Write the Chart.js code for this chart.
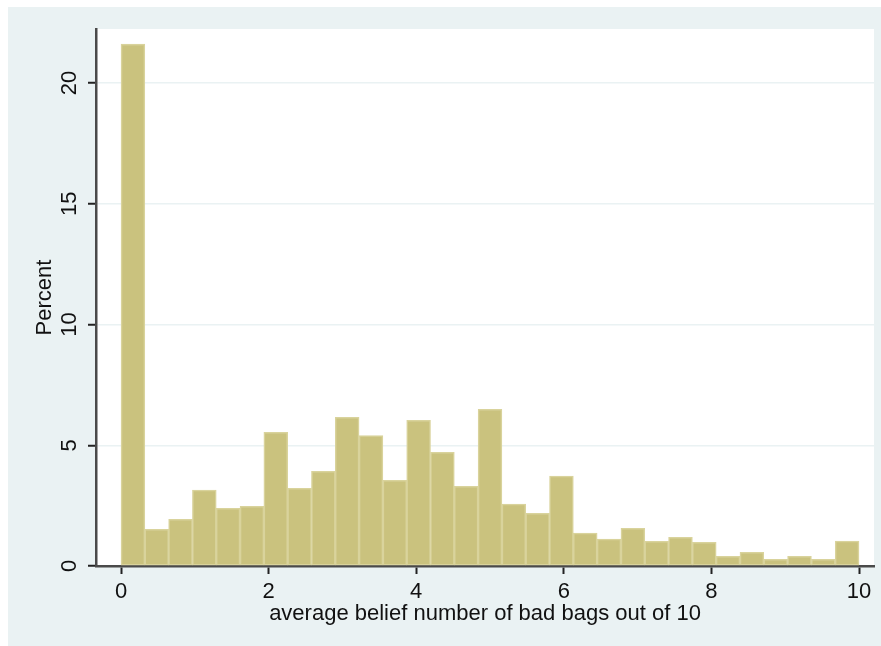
<!DOCTYPE html>
<html>
<head>
<meta charset="utf-8">
<script src="https://cdn.jsdelivr.net/npm/chart.js@4/dist/chart.umd.min.js"></script>
<style>
  html, body { margin: 0; padding: 0; background: #ffffff; }
  canvas { display: block; }
</style>
</head>
<body>
<canvas id="hist" width="881" height="646"></canvas>
<script>
// Histogram of average belief (number of bad bags out of 10), 31 equal bins over [0, 10]
const rangeMin = 0;
const rangeMax = 10;
const binCount = 31;
const percentValues = [
  21.62, 1.52, 1.93, 3.14, 2.39, 2.47, 5.54, 3.22, 3.92, 6.16,
  5.40, 3.55, 6.03, 4.71, 3.30, 6.49, 2.56, 2.18, 3.72, 1.36,
  1.11, 1.56, 1.02, 1.19, 0.98, 0.40, 0.57, 0.28, 0.40, 0.28,
  1.03
];
const xTickValues = [0, 2, 4, 6, 8, 10];
const yTickValues = [0, 5, 10, 15, 20];
const xTitle = 'average belief number of bad bags out of 10';
const yTitle = 'Percent';

const binWidth = (rangeMax - rangeMin) / binCount;
const points = percentValues.map((v, i) => ({ x: rangeMin + (i + 0.5) * binWidth, y: v }));

const FONT = '"Liberation Sans", Arial, Helvetica, sans-serif';
const FONT_SIZE = 22;
const PANEL = '#EAF2F3';
const AXIS = '#4a4a4a';

const backdrop = {
  id: 'backdrop',
  beforeDraw(chart) {
    const { ctx, chartArea: a } = chart;
    ctx.save();
    ctx.fillStyle = '#ffffff';
    ctx.fillRect(0, 0, chart.width, chart.height);
    ctx.fillStyle = PANEL;
    ctx.fillRect(8, 7, chart.width - 8, chart.height - 7);
    ctx.fillStyle = '#ffffff';
    ctx.fillRect(a.left, a.top, a.right - a.left, a.bottom - a.top);
    ctx.restore();
  }
};

new Chart(document.getElementById('hist'), {
  type: 'bar',
  data: {
    datasets: [{
      data: points,
      backgroundColor: '#CAC27E',
      borderColor: '#D9D39C',
      borderWidth: 1.5,
      barPercentage: 1,
      categoryPercentage: 1,
      borderSkipped: false
    }]
  },
  options: {
    responsive: false,
    animation: false,
    devicePixelRatio: 1,
    layout: { padding: { top: 29, right: 7, left: 0, bottom: 0 } },
    plugins: { legend: { display: false }, tooltip: { enabled: false } },
    scales: {
      x: {
        type: 'linear',
        offset: false,
        min: -0.339,
        max: 10.203,
        afterBuildTicks: s => { s.ticks = xTickValues.map(v => ({ value: v })); },
        afterFit: s => { s.height = 80; },
        grid: { offset: false, drawOnChartArea: false, tickLength: 8, tickColor: '#222', tickWidth: 2 },
        border: { color: AXIS, width: 2.5 },
        ticks: {
          color: '#111',
          font: { family: FONT, size: FONT_SIZE },
          padding: 5,
          maxRotation: 0,
          callback: v => String(v)
        },
        title: {
          display: true,
          text: xTitle,
          color: '#111',
          font: { family: FONT, size: FONT_SIZE },
          padding: { bottom: 19, top: 0 }
        }
      },
      y: {
        type: 'linear',
        min: 0,
        max: 22.24,
        afterBuildTicks: s => { s.ticks = yTickValues.map(v => ({ value: v })); },
        afterFit: s => { s.width = 96; },
        grid: { offset: false, color: PANEL, lineWidth: 1.5, tickLength: 8, tickColor: '#222', tickWidth: 2 },
        border: { color: AXIS, width: 2.5 },
        ticks: {
          color: '#111',
          font: { family: FONT, size: FONT_SIZE },
          minRotation: 90,
          maxRotation: 90,
          crossAlign: 'center',
          padding: 5.5,
          callback: v => String(v)
        },
        title: {
          display: true,
          text: yTitle,
          color: '#111',
          font: { family: FONT, size: FONT_SIZE },
          padding: { top: 32, bottom: 0 }
        }
      }
    }
  },
  plugins: [backdrop]
});
</script>
</body>
</html>
